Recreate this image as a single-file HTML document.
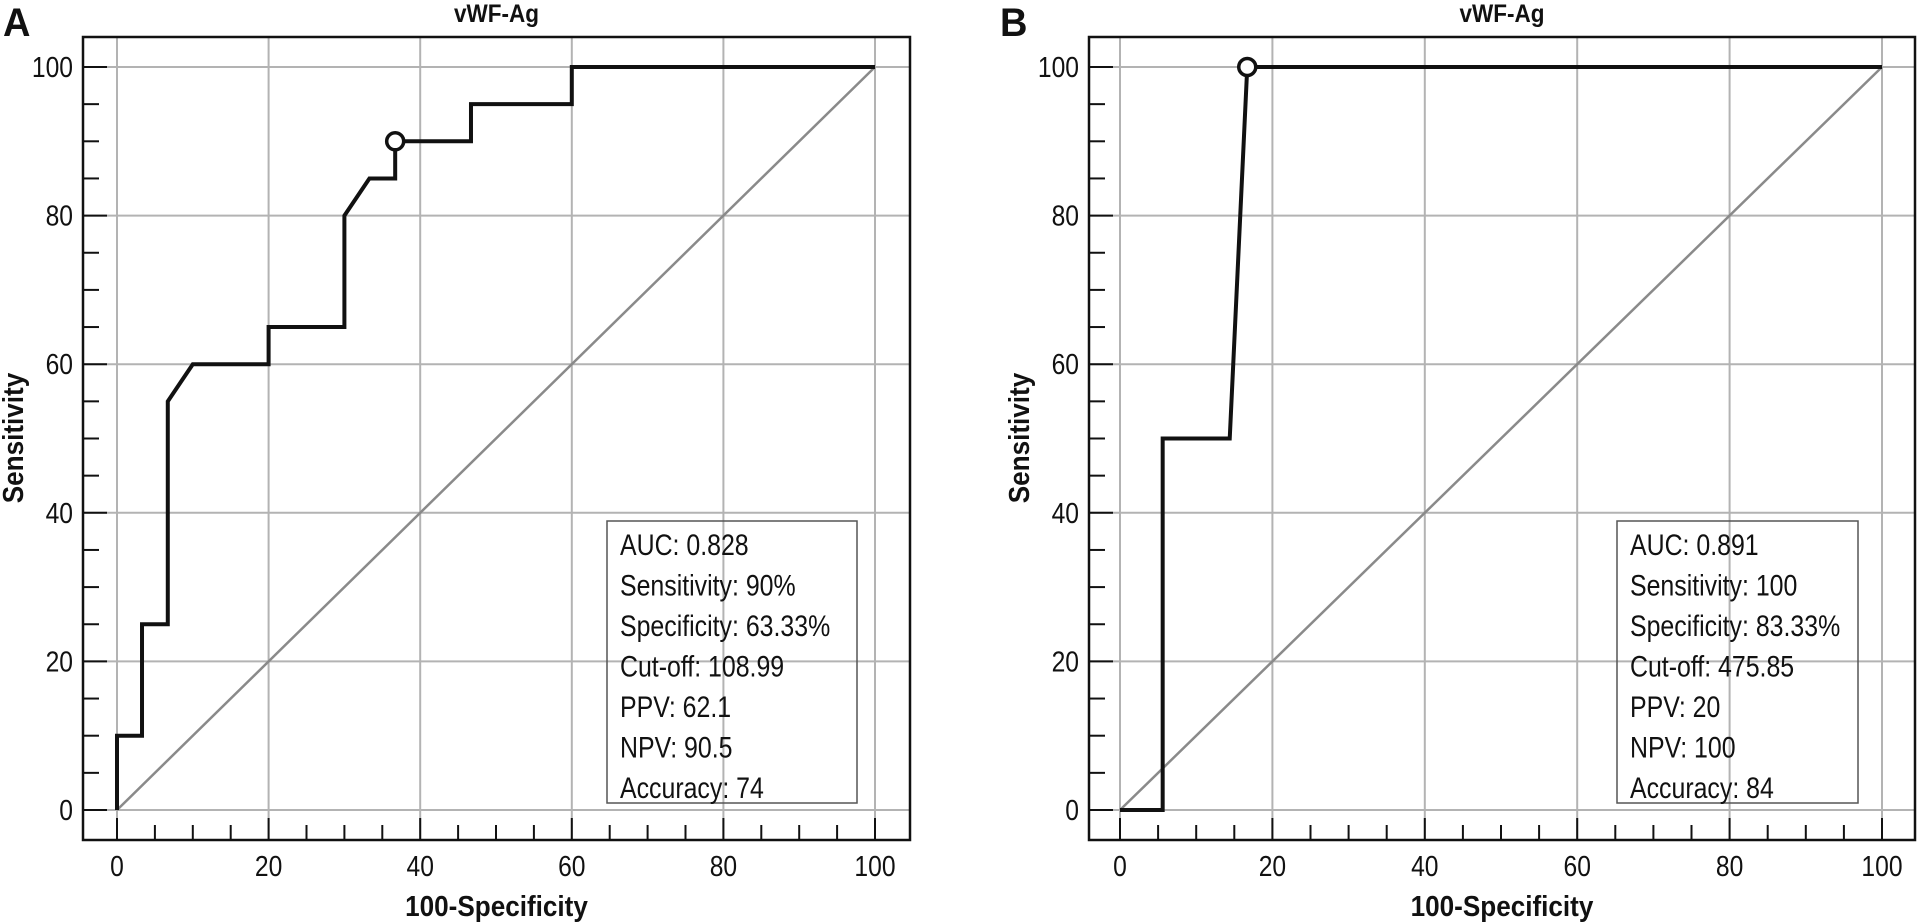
<!DOCTYPE html>
<html><head><meta charset="utf-8"><style>
html,body{margin:0;padding:0;background:#fff;}
svg{display:block;font-family:"Liberation Sans Narrow","Liberation Sans",sans-serif;}
</style></head><body>
<svg id="fig" width="1917" height="924" viewBox="0 0 1917 924" xmlns="http://www.w3.org/2000/svg"></svg>
<script>
const tickValues = [0, 20, 40, 60, 80, 100];
const rocAx = [0, 0, 3.3, 3.3, 6.7, 6.7, 10, 20, 20, 30, 30, 33.3, 36.7, 36.7, 46.7, 46.7, 60, 60, 100];
const rocAy = [0, 10, 10, 25, 25, 55, 60, 60, 65, 65, 80, 85, 85, 90, 90, 95, 95, 100, 100];
const cutA = [36.7, 90];
const rocBx = [0, 5.6, 5.6, 14.4, 16.7, 100];
const rocBy = [0, 0, 50, 50, 100, 100];
const cutB = [16.7, 100];
const statsA = ["AUC: 0.828", "Sensitivity: 90%", "Specificity: 63.33%", "Cut-off: 108.99", "PPV: 62.1", "NPV: 90.5", "Accuracy: 74"];
const statsB = ["AUC: 0.891", "Sensitivity: 100", "Specificity: 83.33%", "Cut-off: 475.85", "PPV: 20", "NPV: 100", "Accuracy: 84"];

const NS = "http://www.w3.org/2000/svg";
const svg = document.getElementById("fig");
function mk(tag, attrs, parent, text) {
  const e = document.createElementNS(NS, tag);
  for (const k in attrs) e.setAttribute(k, attrs[k]);
  if (text !== undefined) e.textContent = text;
  (parent || svg).appendChild(e);
  return e;
}
function ctext(x, y, sc, attrs, parent, text) {
  attrs.x = 0; attrs.y = 0;
  attrs.transform = "translate(" + x + "," + y + ") scale(" + sc + ",1)";
  return mk("text", attrs, parent, text);
}

function panel(cfg) {
  const g = mk("g", {});
  
  
  const sx = v => cfg.x0 + v * cfg.kx;
  const sy = v => 810 - v * 7.43;
  tickValues.forEach(v => {
    const gl = mk("line", {x1: sx(v), x2: sx(v), y1: 37, y2: 840, stroke: "#b3b3b3", "stroke-width": 2}, g);
    
    
    const gh = mk("line", {x1: cfg.fl, x2: cfg.fr, y1: sy(v), y2: sy(v), stroke: "#b3b3b3", "stroke-width": 2}, g);
    
    
  });
  const d = mk("line", {x1: sx(0), y1: sy(0), x2: sx(100), y2: sy(100), stroke: "#8a8a8a", "stroke-width": 2.5}, g);
  
  
  const bx = mk("rect", {x: cfg.bx, y: 521, width: cfg.bw, height: 282, fill: "none", stroke: "#555", "stroke-width": 1.5}, g);
  
  
  cfg.stats.forEach((s, i) => {
    const t = ctext(cfg.bx + 13, 555 + i * 40.5, 0.83, {"font-size": 30, fill: "#111"}, g, s);
    
    
  });
  for (let v = 0; v <= 100; v += 5) {
    const major = v % 20 === 0;
    const ty = mk("line", {x1: cfg.fl, x2: cfg.fl + (major ? 24 : 16), y1: sy(v), y2: sy(v), stroke: "#111", "stroke-width": 2}, g);
    
    
    const tx = mk("line", {x1: sx(v), x2: sx(v), y1: 840, y2: 840 - (major ? 22 : 15), stroke: "#111", "stroke-width": 2}, g);
    
    
  }
  tickValues.forEach(v => {
    const ly = ctext(cfg.fl - 10, sy(v) + 10, 0.85, {"font-size": 29, "text-anchor": "end", fill: "#111"}, g, String(v));
    
    
    const lx = ctext(sx(v), 876, 0.85, {"font-size": 29, "text-anchor": "middle", fill: "#111"}, g, String(v));
    
    
  });
  const pts = cfg.xs.map((x, i) => sx(x) + "," + sy(cfg.ys[i])).join(" ");
  const c = mk("polyline", {points: pts, fill: "none", stroke: "#111", "stroke-width": 4, "stroke-linejoin": "miter"}, g);
  
  
  const cc = mk("circle", {cx: sx(cfg.cut[0]), cy: sy(cfg.cut[1]), r: 8.5, fill: "#fff", stroke: "#111", "stroke-width": 3.5}, g);
  
  
  const f = mk("rect", {x: cfg.fl, y: 37, width: cfg.fr - cfg.fl, height: 803, fill: "none", stroke: "#111", "stroke-width": 2.5}, g);
  
  
  const tt = ctext((cfg.fl + cfg.fr) / 2, 22, 0.9, {"font-size": 25, "font-weight": "bold", "text-anchor": "middle", fill: "#111"}, g, "vWF-Ag");
  
  
  const pl = ctext(cfg.lx, 36, 0.95, {"font-size": 40, "font-weight": "bold", fill: "#111"}, g, cfg.id);
  
  
  const xt = ctext((cfg.fl + cfg.fr) / 2, 916, 0.9, {"font-size": 29, "font-weight": "bold", "text-anchor": "middle", fill: "#111"}, g, "100-Specificity");
  
  
  const yt = mk("text", {x: 0, y: 0, "font-size": 29, "font-weight": "bold", "text-anchor": "middle", fill: "#111", transform: "translate(" + cfg.ytx + ",438) rotate(-90) scale(0.9,1)"}, g, "Sensitivity");
  
  
}

panel({id: "A", x0: 117, kx: 7.58, fl: 83, fr: 910, bx: 607, bw: 250, stats: statsA, xs: rocAx, ys: rocAy, cut: cutA, lx: 3, ytx: 23});
panel({id: "B", x0: 1120, kx: 7.62, fl: 1089, fr: 1915, bx: 1617, bw: 241, stats: statsB, xs: rocBx, ys: rocBy, cut: cutB, lx: 1000, ytx: 1029});
</script>
</body></html>
